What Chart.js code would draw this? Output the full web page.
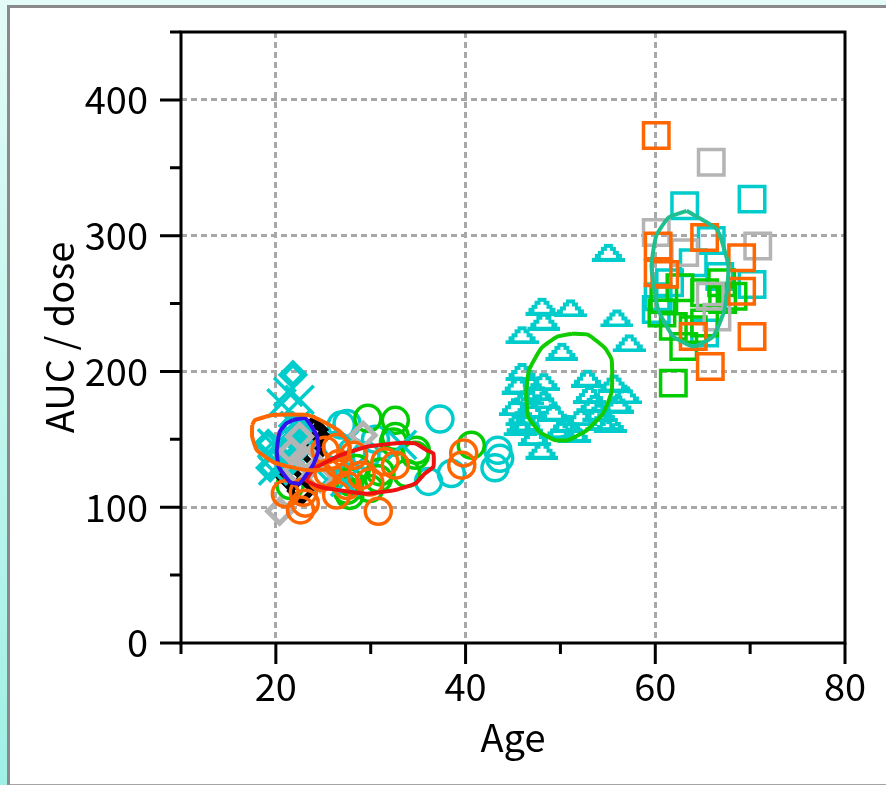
<!DOCTYPE html>
<html>
<head>
<meta charset="utf-8">
<title>AUC/dose vs Age</title>
<script src="https://cdn.jsdelivr.net/npm/chart.js@4.4.1/dist/chart.umd.min.js"></script>
<style>
  html, body { margin: 0; padding: 0; width: 886px; height: 785px; overflow: hidden; }
  body { background: linear-gradient(to bottom, #e4fbf8, #9ff0e5); position: relative; }
  #frame {
    position: absolute; left: 7px; top: 5px; width: 900px; height: 776px;
    background: #fff;
    border-left: 3px solid #8a8a8a; border-top: 3px solid #8a8a8a; border-bottom: 2px solid #a4a4a4;
  }
  #plot { position: absolute; left: 0; top: 0; }
</style>
</head>
<body>
<div id="frame"></div>
<canvas id="plot" width="886" height="785"></canvas>
<script>
// [age, AUC/dose]
const orangeCircles = [[22.6, 98], [21.0, 110], [23.1, 103], [26.4, 144], [26.6, 132], [25.5, 125],
  [27.5, 116], [26.4, 109], [29.0, 123.5], [29.9, 118.6], [30.8, 97], [32.6, 131], [31.5, 133.4],
  [28.2, 138.3], [25.2, 142], [24.8, 122], [39.8, 140], [39.6, 131], [22.9, 111]];
const greenCircles = [[29.7, 165.5], [32.6, 164], [32.4, 148], [32.6, 152], [34.7, 138.3], [34.8, 142],
  [27.8, 108.7], [27.8, 118.6], [29.9, 113.7], [21.5, 116], [31.0, 126], [28.5, 128.5], [40.6, 145.7],
  [27.5, 112.4], [33.8, 124.8], [30.8, 121]];
const cyanCircles = [[26.9, 160.5], [37.3, 165], [36.1, 119], [38.5, 124.8], [28.0, 140.8], [43.4, 142],
  [43.6, 136], [43.1, 129], [27.5, 161.7], [26.4, 145.7], [30.5, 150], [29.5, 138]];
const cyanCrosses = [[21.3, 185], [22.5, 179], [20.6, 176.5], [19.6, 147], [19.7, 127], [26.2, 124.8],
  [33.3, 146], [25.4, 120], [27.3, 118.6], [22.0, 160]];
const cyanDiamonds = [[21.8, 197.5], [19.2, 147], [19.4, 129], [22.0, 150], [21.5, 145], [22.5, 157],
  [21.2, 140], [22.8, 146], [21.8, 160], [21.5, 133]];
const grayDiamonds = [[20.4, 97], [29.2, 153], [22.5, 152], [21.7, 141], [22.9, 136], [23.6, 135],
  [24.7, 121], [22.2, 127]];
const blackDiamonds = [[24.0, 157], [22.7, 112], [21.5, 122], [23.3, 149], [23.8, 140], [24.3, 152]];
const cyanTriangles = [[48.0, 248], [51.0, 246.8], [48.2, 237], [45.9, 227], [55.9, 239.4], [57.2, 221],
  [55.0, 287.7], [50.1, 214.8], [45.9, 200], [48.2, 192.5], [52.8, 195], [55.6, 191.4], [56.8, 182.7],
  [45.2, 174], [48.2, 179], [45.9, 166.7], [45.7, 159.3], [50.6, 161.7], [52.1, 166.7], [53.5, 176.5],
  [55.2, 161.7], [51.4, 154.4], [48.0, 142], [54.0, 170], [47.5, 185], [45.5, 190], [46.5, 182],
  [46.8, 172], [47.2, 152], [49.2, 170], [53.0, 183], [56.0, 176], [54.3, 163], [50.0, 157], [46.4, 162]];
const orangeSquares = [[60.1, 373.8], [65.2, 298.6], [60.3, 292.4], [60.3, 272.6], [61.0, 271.5],
  [69.1, 283.8], [69.1, 259.1], [64.0, 225.8], [65.8, 203.6], [70.2, 225.8]];
const graySquares = [[65.9, 354], [60.1, 302.3], [70.8, 292.4], [63.1, 287.5], [65.8, 255.4], [66.5, 240]];
const cyanSquares = [[63.1, 322], [70.2, 326.9], [65.9, 296.4], [64.0, 280], [70.2, 264], [60.1, 245.6],
  [61.5, 265.3], [65.2, 228.3], [66.8, 270], [60.3, 255]];
const greenSquares = [[61.9, 191.4], [63.0, 218.4], [61.9, 233.2], [60.7, 243], [62.6, 261.6], [67.0, 265.3],
  [68.2, 255.4], [65.2, 258], [65.2, 235.7], [64.0, 230.8], [60.9, 253], [67.1, 253]];

// ellipse outlines
const orangeEllipse = [[17.5, 160.5], [17.8, 164.2], [19.7, 167.9], [23.3, 167.9], [25.0, 163], [26.8, 155.5],
  [27.8, 144.5], [27.5, 134.6], [26.1, 128.5], [23.6, 127.2], [21.5, 129.7], [19.7, 133.4], [18.0, 142],
  [17.5, 151.9], [17.5, 160.5]];
const blueEllipse = [[21.8, 164.2], [23.1, 165.5], [24.3, 153.1], [24.5, 142], [24.0, 132.2], [23.3, 124.8],
  [22.5, 117.4], [21.5, 118.6], [20.3, 129.7], [20.1, 142], [20.4, 155.5], [21.1, 161.7], [21.8, 164.2]];
const redEllipse = [[24.0, 128.5], [26.8, 138.3], [29.6, 144.5], [33.4, 147.4], [34.7, 147], [35.9, 142],
  [36.6, 139.6], [36.6, 129.7], [35.7, 124.8], [34.7, 117.4], [32.4, 112.4], [29.6, 110], [26.8, 112.4],
  [24.7, 114.9], [23.2, 119.8], [24.0, 128.5]];
const greenEllipse = [[51.2, 227.8], [52.9, 227], [54.7, 217.2], [55.4, 208.6], [55.4, 185.1], [54.5, 169.2],
  [52.8, 156.8], [50.8, 149.4], [49.4, 149.4], [47.8, 155.6], [46.6, 166.7], [46.4, 185.1], [46.7, 201.2],
  [48.0, 217.2], [49.6, 225.4], [51.2, 227.8]];
const tealEllipse = [[63.3, 318.3], [66.5, 304.7], [67.7, 277.6], [67.3, 245.6], [66.1, 225.8], [64.0, 218.4],
  [61.9, 225.8], [60.3, 245.6], [59.6, 277.6], [60.1, 299.9], [61.4, 313.4], [63.3, 318.3]];

const xMajor = [20, 40, 60, 80];
const xMinor = [10, 30, 50, 70];
const yMajor = [0, 100, 200, 300, 400];
const yMinor = [50, 150, 250, 350, 450];

const ORANGE = "#ff6600";
const GREEN = "#00cc00";
const CYAN = "#00cccc";
const GRAY = "#b4b4b4";
const FONT = "'Noto Sans CJK JP', 'Noto Sans', sans-serif";

function pts(arr) {
  return arr.map(p => ({ x: p[0], y: p[1] }));
}

// stair-stepped hollow triangle, like the jagged ones in the original plot
function stepTriangle(color) {
  const c = document.createElement("canvas");
  c.width = 34;
  c.height = 19;
  const g = c.getContext("2d");
  g.fillStyle = color;
  for (let i = 0; i < 5; i++) {
    const w = 9 + 6 * i;
    const x0 = Math.round(17 - w / 2);
    const y0 = Math.round(1 + 3.4 * i);
    if (i === 0 || i === 4) {
      g.fillRect(x0, y0, w, 4);
    } else {
      g.fillRect(x0, y0, 6, 4);
      g.fillRect(x0 + w - 6, y0, 6, 4);
    }
  }
  return c;
}

function markers(label, arr, color, style, radius, width, order) {
  return {
    label: label,
    data: pts(arr),
    pointStyle: style,
    pointRadius: radius,
    pointHoverRadius: radius,
    borderColor: color,
    backgroundColor: "rgba(0,0,0,0)",
    pointBorderWidth: width,
    order: order
  };
}

function outline(label, arr, color) {
  return {
    label: label,
    data: pts(arr),
    showLine: true,
    pointRadius: 0,
    borderColor: color,
    borderWidth: 4,
    tension: 0.15,
    fill: false,
    order: 0
  };
}

function noPad(scale) {
  scale.paddingTop = 0;
  scale.paddingBottom = 0;
  scale.paddingLeft = 0;
  scale.paddingRight = 0;
}

const frameTicks = {
  id: "frameTicks",
  afterDraw(chart) {
    const { ctx, chartArea: a, scales } = chart;
    ctx.save();
    ctx.strokeStyle = "#000";
    ctx.lineWidth = 3;
    ctx.strokeRect(a.left, a.top, a.right - a.left, a.bottom - a.top);
    ctx.beginPath();
    xMajor.forEach(v => {
      const px = scales.x.getPixelForValue(v);
      ctx.moveTo(px, a.bottom); ctx.lineTo(px, a.bottom + 21);
    });
    xMinor.forEach(v => {
      const px = scales.x.getPixelForValue(v);
      ctx.moveTo(px, a.bottom); ctx.lineTo(px, a.bottom + 11);
    });
    yMajor.forEach(v => {
      const py = scales.y.getPixelForValue(v);
      ctx.moveTo(a.left, py); ctx.lineTo(a.left - 21, py);
    });
    yMinor.forEach(v => {
      const py = scales.y.getPixelForValue(v);
      ctx.moveTo(a.left, py); ctx.lineTo(a.left - 11, py);
    });
    ctx.stroke();
    ctx.restore();
  }
};

new Chart(document.getElementById("plot"), {
  type: "scatter",
  data: {
    datasets: [
      outline("orange ellipse", orangeEllipse, "#ff6600"),
      outline("blue ellipse", blueEllipse, "#3311ee"),
      outline("red ellipse", redEllipse, "#ee1111"),
      outline("green ellipse", greenEllipse, "#11cc00"),
      outline("teal ellipse", tealEllipse, "#1fbf8f"),
      markers("orange circles", orangeCircles, ORANGE, "circle", 13, 3.5, 1),
      markers("orange squares", orangeSquares, ORANGE, "rect", 18, 3.5, 1),
      markers("gray diamonds", grayDiamonds, GRAY, "rectRot", 12, 5, 2),
      markers("gray squares", graySquares, GRAY, "rect", 18, 3.5, 2),
      markers("cyan crosses", cyanCrosses, CYAN, "crossRot", 20, 3.5, 3),
      markers("cyan diamonds", cyanDiamonds, CYAN, "rectRot", 11, 6, 4),
      markers("black diamonds", blackDiamonds, "#000", "rectRot", 11, 6, 5),
      markers("cyan squares", cyanSquares, CYAN, "rect", 18, 3.5, 6),
      markers("green squares", greenSquares, GREEN, "rect", 18, 3.5, 5),
      markers("green circles", greenCircles, GREEN, "circle", 13, 3.5, 6),
      markers("cyan circles", cyanCircles, CYAN, "circle", 13, 3.5, 7),
      markers("cyan triangles", cyanTriangles, CYAN, stepTriangle(CYAN), 12, 3, 8)
    ]
  },
  options: {
    responsive: false,
    animation: false,
    devicePixelRatio: 1,
    layout: { padding: { top: 32, right: 41, bottom: 0, left: 0 } },
    plugins: { legend: { display: false }, tooltip: { enabled: false } },
    scales: {
      x: {
        type: "linear",
        min: 10,
        max: 80,
        afterFit(scale) { scale.height = 142; noPad(scale); },
        ticks: {
          stepSize: 10,
          autoSkip: false,
          maxRotation: 0,
          padding: 21,
          color: "#000",
          font: { family: FONT, size: 38 },
          callback: v => (v % 20 === 0 ? v : "")
        },
        grid: {
          drawTicks: false,
          lineWidth: 3,
          color: c => (c.tick && c.tick.value % 20 === 0 && c.tick.value > 10 && c.tick.value < 80) ? "#a8a8a8" : "rgba(0,0,0,0)"
        },
        border: { display: false, dash: [6, 4] },
        title: {
          display: true,
          text: "Age",
          color: "#000",
          font: { family: FONT, size: 38 },
          padding: { top: 0, bottom: 25 }
        }
      },
      y: {
        min: 0,
        max: 450,
        afterFit(scale) { scale.width = 181; noPad(scale); },
        ticks: {
          stepSize: 50,
          autoSkip: false,
          padding: 33,
          color: "#000",
          font: { family: FONT, size: 38 },
          callback: v => (v % 100 === 0 && v <= 400 ? v : "")
        },
        grid: {
          drawTicks: false,
          lineWidth: 3,
          color: c => (c.tick && c.tick.value % 100 === 0 && c.tick.value > 0 && c.tick.value < 450) ? "#a8a8a8" : "rgba(0,0,0,0)"
        },
        border: { display: false, dash: [6, 4] },
        title: {
          display: true,
          text: "AUC / dose",
          color: "#000",
          font: { family: FONT, size: 38 },
          padding: { top: 37, bottom: 0 }
        }
      }
    }
  },
  plugins: [frameTicks]
});
</script>
</body>
</html>
